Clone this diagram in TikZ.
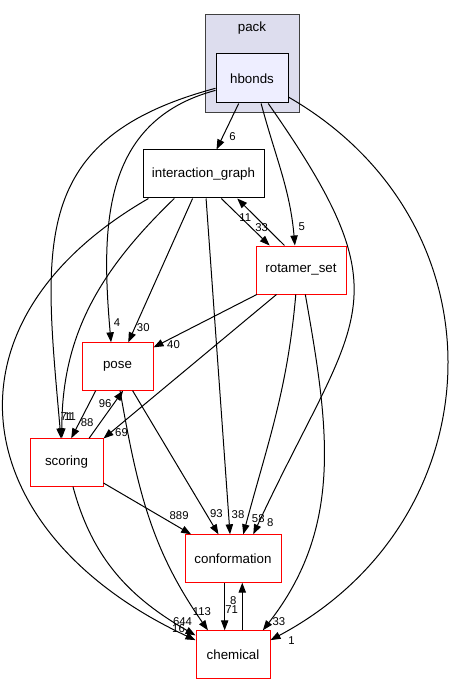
\documentclass[tikz,border=0pt]{standalone}
\usepackage{fontspec}
\setmainfont{Liberation Sans}
\usetikzlibrary{arrows.meta}
\definecolor{clusterfill}{HTML}{DDDDEE}
\definecolor{dirfill}{HTML}{EEEEFF}

\begin{document}
\begin{tikzpicture}[x=0.75pt, y=-0.75pt, ->, >={Triangle[length=7.5pt,width=5.5pt]},
    line width=0.75pt, font=\fontsize{10}{12}\selectfont,
    dir/.style={draw, rectangle, fill=white, minimum height=35.5pt, inner sep=0pt},
    refdir/.style={dir, draw=red},
    lbl/.style={font=\fontsize{8.5}{10}\selectfont, inner sep=0pt, at end}]
  \useasboundingbox (0,0) rectangle (449,684);

  \node[draw=black!75, fill=clusterfill, minimum width=70.5pt, minimum height=73.5pt] (pack) at (252,64) {};
  \node (packname) at (252,28) {pack};
  \node[dir, fill=dirfill, minimum width=54pt, minimum height=36.75pt] (hbonds) at (252,78.5) {hbonds};
  \node[dir, minimum width=90.75pt, minimum height=36pt] (ig)    at (203.5,174) {interaction\_graph};
  \node[refdir, minimum width=67.5pt, minimum height=36pt] (rs)  at (301,270)   {rotamer\_set};
  \node[refdir, minimum width=53.25pt] (pose)    at (117.5,366.5) {pose};
  \node[refdir, minimum width=54.75pt] (scoring) at (66.5,462.5)  {scoring};
  \node[refdir, minimum width=72pt]    (conf)    at (233,558.5)   {conformation};
  \node[refdir, minimum width=55.5pt]  (chem)    at (233,654.5)   {chemical};

  \path (hbonds.242) edge node[lbl, shift={(16,-13)}] {6} (ig.62)
        (hbonds.290) edge[out=-75, in=95] node[lbl, shift={(7,-19)}] {5} (rs.104)
        (hbonds.198) edge[out=195, in=95, looseness=1.1] node[lbl, shift={(6,-20)}] {4} (pose.105)
        (hbonds.195) edge[out=195, in=95, looseness=1.3] node[lbl, shift={(9,-22)}] {11} (scoring.103)
        (hbonds.303) edge[out=-55, in=65, looseness=1.45] node[lbl, shift={(17,-12)}] {8} (conf.50)
        (hbonds.333) edge[out=-30, in=28, looseness=1.2] node[lbl, shift={(21,0)}] {1} (chem.21)
        (ig.306) edge node[lbl, shift={(-8,-18)}] {33} (rs.142)
        (rs.124) edge node[lbl, shift={(8,19)}] {11} (ig.324)
        (ig.246) edge node[lbl, shift={(15,-15)}] {30} (pose.66)
        (ig.220) edge[out=224, in=90] node[lbl, shift={(5,-22)}] {71} (scoring.101)
        (ig.204) edge[out=210, in=155, looseness=1.45] node[lbl, shift={(-17,-12)}] {16} (chem.159)
        (ig.276) edge node[lbl, shift={(8,-20)}] {38} (conf.97)
        (rs.209) edge node[lbl, shift={(20,-3)}] {40} (pose.28)
        (rs.225) edge node[lbl, shift={(18,-6)}] {69} (scoring.33)
        (rs.258) edge[out=-95, in=75] node[lbl, shift={(15,-16)}] {58} (conf.67)
        (rs.280) edge[out=-80, in=52] node[lbl, shift={(16,-9)}] {33} (chem.39)
        (pose.228) edge node[lbl, shift={(16,-16)}] {88} (scoring.79)
        (scoring.47) edge node[lbl, shift={(-18,13)}] {96} (pose.283)
        (pose.302) edge node[lbl, shift={(-2,-21)}] {93} (conf.121)
        (pose.276) edge[out=-80, in=125] node[lbl, shift={(-6,-19)}] {113} (chem.136)
        (scoring.331) edge node[lbl, shift={(-12,-19)}] {889} (conf.150)
        (scoring.285) edge[out=-75, in=150] node[lbl, shift={(-13,-14)}] {644} (chem.153)
        (conf.251) edge node[lbl, shift={(7,-21)}] {71} (chem.109)
        (chem.69) edge node[lbl, shift={(-9,18)}] {8} (conf.291)
        ;
\end{tikzpicture}
\end{document}
